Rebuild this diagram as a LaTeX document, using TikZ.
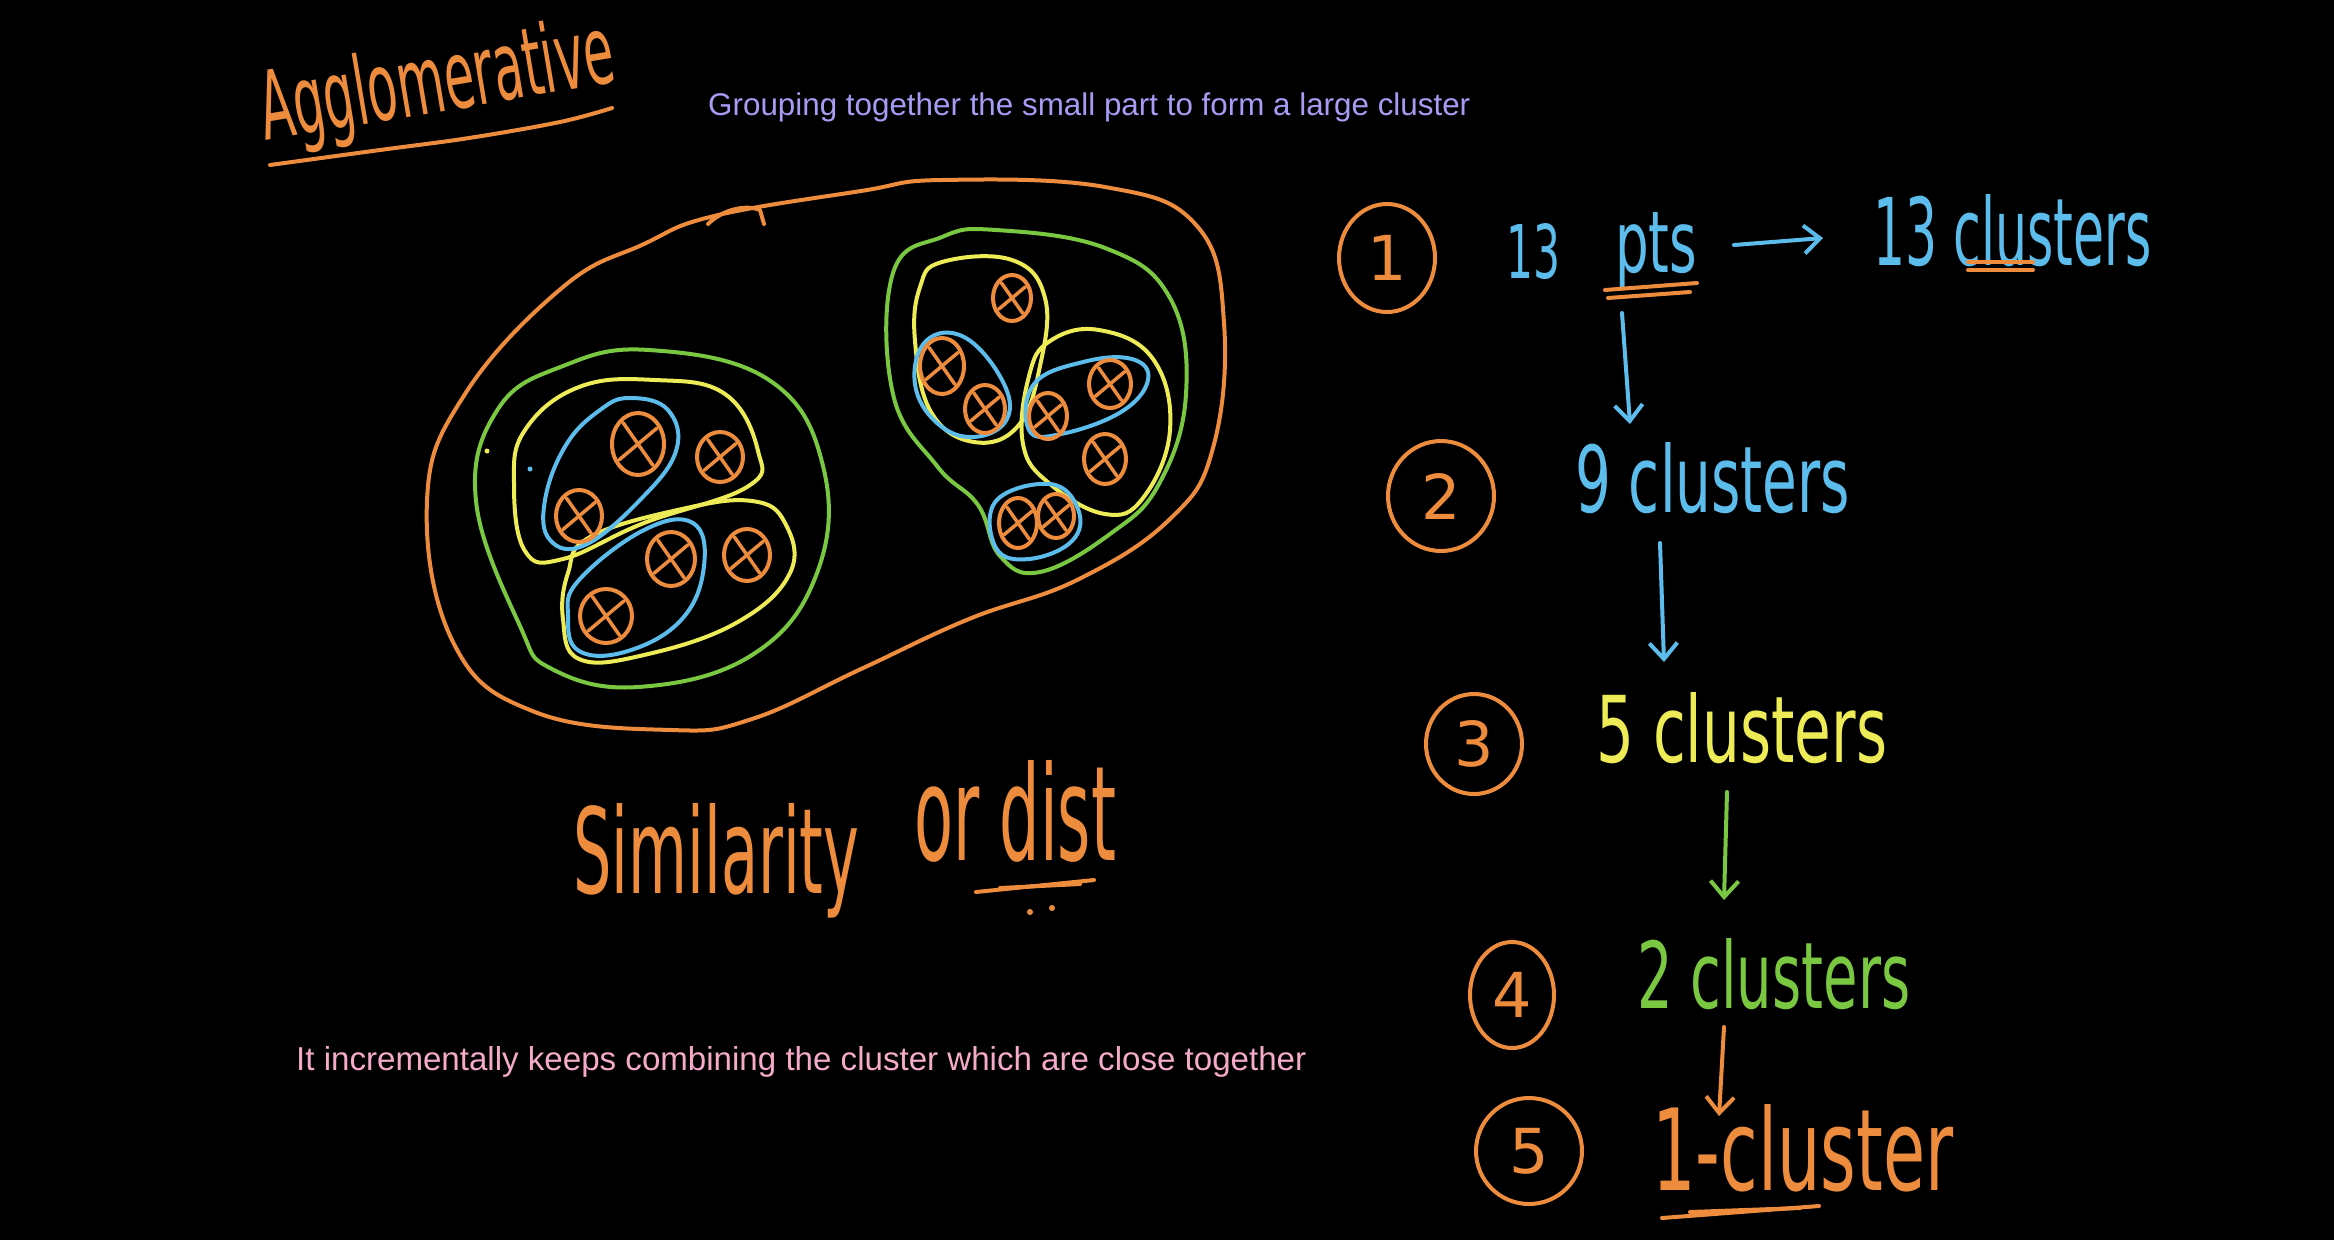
\documentclass[tikz,border=0pt]{standalone}
\usepackage{fontspec}
\setmainfont{Liberation Sans}
\newfontfamily\handfont{DejaVu Sans}
\usetikzlibrary{arrows.meta,shapes.geometric}
\definecolor{cor}{RGB}{238,140,62}
\definecolor{cgr}{RGB}{122,200,66}
\definecolor{cye}{RGB}{238,236,86}
\definecolor{cbl}{RGB}{92,188,236}
\definecolor{clav}{RGB}{166,156,244}
\definecolor{cpk}{RGB}{244,170,200}
\newcommand{\hw}[3]{\resizebox{#1pt}{#2pt}{\handfont #3}}
\newcommand{\tw}[2]{\resizebox{#1pt}{!}{#2}}
\begin{document}
\begin{tikzpicture}[x=1pt,y=-1pt,line cap=round,line join=round,
  ink/.style={line width=4pt},
  txt/.style={inner sep=0pt,anchor=base west},
  xpt/.style={draw=cor,ink,ellipse,inner sep=0pt},
  numc/.style={draw=cor,ink,ellipse,inner sep=0pt,text=cor,font=\handfont\fontsize{62}{62}\selectfont},
  arr/.style={ink,-{Straight Barb[length=16pt,width=28pt]}},
  blob/.style={ink,smooth cycle,tension=0.7}]
\fill[black] (0,0) rectangle (2334,1240);
\useasboundingbox (0,0) rectangle (2334,1240);

% ---------- typed texts ----------
\node[inner sep=0pt,anchor=west,text=clav] (head) at (708,107) {\tw{762}{Grouping together the small part to form a large cluster}};
\node[inner sep=0pt,anchor=west,text=cpk] (foot) at (296,1062) {\tw{1010}{It incrementally keeps combining the cluster which are close together}};

% ---------- title ----------
\node[txt,text=cor,rotate=9.5] (title) at (265,141) {\hw{358}{72}{Agglomerative}};
\draw[cor,ink] plot[smooth,tension=0.6] coordinates {(270,165) (380,150) (469,138) (560,122) (612,108)};

% ---------- big orange cluster ----------
\draw[cor,ink] plot[blob] coordinates {(644,244) (714,216) (861,191) (942,180) (1105,187) (1197,226) (1224,323) (1213,448) (1170,519) (1077,580) (969,619) (861,669) (752,719) (671,730) (535,712) (454,644) (427,501) (465,394) (563,287)};
\draw[cor,ink] (708,224) .. controls (722,210) and (745,204) .. (760,210) -- (764,224);

% ---------- left group ----------
\draw[cgr,ink] plot[blob] coordinates {(649,350) (769,380) (823,466) (817,573) (752,655) (638,687) (552,669) (520,626) (476,501) (498,409) (563,366)};
\draw[cye,ink] plot[blob] coordinates {(525,430) (579,387) (655,380) (725,394) (758,451) (747,487) (644,523) (563,559) (525,551) (514,484)};
\draw[cye,ink] plot[blob] coordinates {(590,537) (682,509) (752,501) (785,523) (790,573) (736,623) (644,655) (579,659) (563,619) (568,573)};
\draw[cbl,ink] plot[blob] coordinates {(600,410) (566,445) (545,500) (550,540) (585,545) (640,500) (676,451) (668,410) (630,398)};
\draw[cbl,ink] plot[blob] coordinates {(579,580) (644,530) (693,523) (704,566) (682,619) (628,651) (579,651) (568,616)};
\fill[cye] (487,451) circle (2.5pt);
\fill[cbl] (530,469) circle (2.5pt);

% ---------- right group ----------
\draw[cgr,ink] plot[blob] coordinates {(893,273) (942,237) (996,230) (1105,248) (1170,298) (1186,394) (1159,484) (1110,534) (1040,572) (1000,556) (978,505) (937,466) (893,394)};
\draw[cye,ink] plot[blob] coordinates {(942,262) (1012,260) (1045,298) (1040,366) (1018,426) (974,442) (931,412) (915,341) (920,287)};
\draw[cbl,ink] plot[blob] coordinates {(926,341) (964,337) (1002,380) (1007,419) (974,437) (937,423) (915,384)};
\draw[cye,ink] plot[blob] coordinates {(1050,341) (1099,330) (1153,359) (1170,430) (1143,498) (1105,514) (1050,484) (1023,444) (1029,376)};
\draw[cbl,ink] plot[blob] coordinates {(1034,384) (1083,362) (1132,359) (1148,380) (1121,412) (1061,434) (1029,430)};
\draw[cbl,ink] plot[blob] coordinates {(996,501) (1050,484) (1078,509) (1072,541) (1029,559) (996,548)};

% ---------- points ----------
\foreach \n/\x/\y/\w/\h in {L1/579/516/46/52, L2/638/444/52/62, L3/720/457/46/50, L4/606/616/52/54, L5/671/559/48/54, L6/747/555/46/52,
  R1/1012/298/38/46, R2/942/366/44/56, R3/985/409/40/48, R4/1048/416/38/46, R5/1110/384/42/48, R6/1105/459/42/50, R7/1018/523/38/50, R8/1056/516/36/44}{
  \node[xpt,minimum width=\w pt,minimum height=\h pt] (\n) at (\x,\y) {};
  \draw[cor,line width=3.5pt,shorten >=5pt,shorten <=5pt] (\n.125) -- (\n.-55);
  \draw[cor,line width=3.5pt,shorten >=5pt,shorten <=5pt] (\n.40) -- (\n.-140);
}

% ---------- similarity or dist ----------
\node[txt,text=cor] (sim) at (573,893) {\hw{286}{90}{Similarity}};
\node[txt,text=cor] (ordist) at (914,860) {\hw{202}{100}{or dist}};
\draw[cor,ink] (976,892) -- (1094,880);
\draw[cor,ink] (1000,888) -- (1080,884);
\fill[cor] (1030,912) circle (3pt);
\fill[cor] (1052,908) circle (3pt);

% ---------- steps ----------
\node[numc,minimum width=96pt,minimum height=108pt] (c1) at (1387,258) {1};
\node[numc,minimum width=106pt,minimum height=110pt] (c2) at (1441,496) {2};
\node[numc,minimum width=96pt,minimum height=100pt] (c3) at (1474,744) {3};
\node[numc,minimum width=84pt,minimum height=106pt] (c4) at (1512,995) {4};
\node[numc,minimum width=106pt,minimum height=106pt] (c5) at (1529,1151) {5};

\node[txt,text=cbl] (n13) at (1506,278) {\hw{54}{55}{13}};
\node[txt,text=cbl] (pts) at (1615,272) {\hw{82}{60}{pts}};
\node[txt,text=cbl] (s1) at (1873,265) {\hw{278}{71}{13 clusters}};
\node[txt,text=cbl] (s2) at (1575,512) {\hw{275}{70}{9 clusters}};
\node[txt,text=cye] (s3) at (1596,762) {\hw{291}{70}{5 clusters}};
\node[txt,text=cgr] (s4) at (1637,1008) {\hw{273}{70}{2 clusters}};
\node[txt,text=cor] (s5) at (1652,1190) {\hw{301}{86}{1-cluster}};

% underlines
\draw[cor,ink] (1605,290) -- (1697,283);
\draw[cor,ink] (1608,298) -- (1690,292);
\draw[cor,ink] (1968,262) -- (2033,262);
\draw[cor,ink] (1968,270) -- (2033,270);
\draw[cor,ink] (1662,1218) -- (1819,1206);
\draw[cor,ink] (1690,1212) -- (1800,1208);

% arrows
\coordinate (a0s) at (1734,245);
\coordinate (a0e) at (1823,238);
\coordinate (d1s) at (1622,313);
\coordinate (d1e) at (1630,424);
\coordinate (d2s) at (1660,543);
\coordinate (d2e) at (1664,662);
\coordinate (d3s) at (1727,792);
\coordinate (d3e) at (1724,900);
\coordinate (d4s) at (1724,1027);
\coordinate (d4e) at (1719,1116);
\draw[cbl,arr] (a0s) -- (a0e);
\draw[cbl,arr] (d1s) -- (d1e);
\draw[cbl,arr] (d2s) -- (d2e);
\draw[cgr,arr] (d3s) -- (d3e);
\draw[cor,arr] (d4s) -- (d4e);
\end{tikzpicture}
\end{document}
